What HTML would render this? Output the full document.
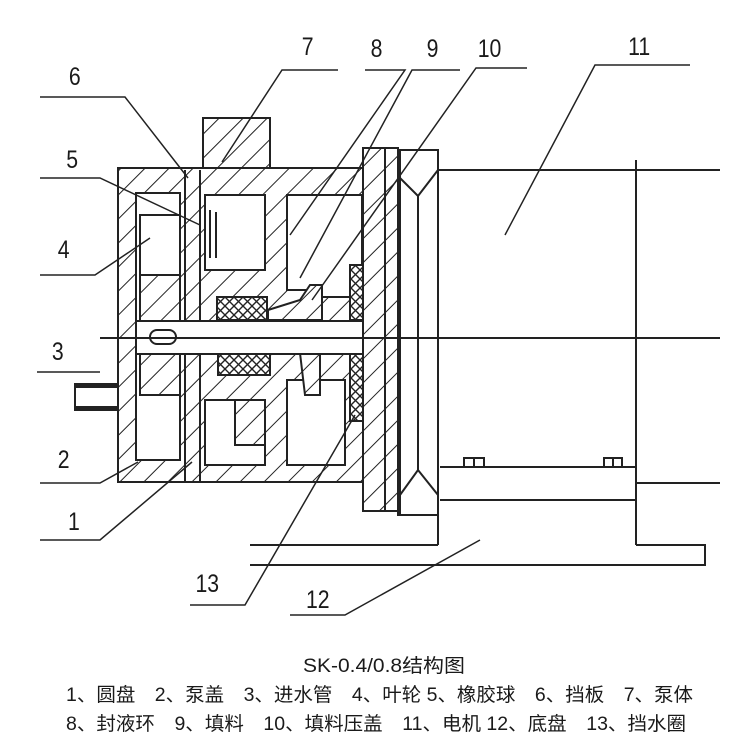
<!DOCTYPE html>
<html><head><meta charset="utf-8"><style>
html,body{margin:0;padding:0;background:#fff;width:750px;height:750px;overflow:hidden}
svg{display:block}
text{font-family:"Liberation Sans","Noto Sans CJK SC",sans-serif;fill:#1a1a1a}
</style></head><body>
<svg width="750" height="750" viewBox="0 0 750 750" xmlns="http://www.w3.org/2000/svg">
<defs>
<pattern id="h" patternUnits="userSpaceOnUse" width="17" height="17" patternTransform="rotate(45)">
<rect width="17" height="17" fill="#fff"/><line x1="0" y1="0" x2="0" y2="17" stroke="#222" stroke-width="2"/>
</pattern>
<pattern id="x" patternUnits="userSpaceOnUse" width="9" height="9">
<rect width="9" height="9" fill="#fff"/><path d="M0 0L9 9M9 0L0 9" stroke="#222" stroke-width="1.4"/>
</pattern>
</defs>
<g stroke="#222" stroke-width="2" fill="none">
<rect x="118" y="168" width="246" height="314" fill="url(#h)"/>
<rect x="203" y="118" width="67" height="50" fill="url(#h)"/>
<rect x="136" y="193" width="44" height="267" fill="#fff"/>
<rect x="140" y="215" width="40" height="60" fill="#fff"/>
<polygon points="140,275 180,275 180,322 140,322" fill="url(#h)"/>
<polygon points="140,352 180,352 180,395 140,395" fill="url(#h)"/>
<rect x="205" y="195" width="60" height="75" fill="#fff"/>
<line x1="210" y1="210" x2="210" y2="258"/><line x1="216" y1="212" x2="216" y2="258"/>
<polygon points="287,195 362,195 362,297 320,297 320,290 287,290" fill="#fff"/>
<rect x="205" y="400" width="60" height="65" fill="#fff"/>
<polygon points="287,380 345,380 345,465 287,465" fill="#fff"/>
<polygon points="235,400 265,400 265,445 235,445" fill="url(#h)"/>
<line x1="185" y1="170" x2="185" y2="482"/><line x1="200" y1="170" x2="200" y2="482"/>
<rect x="217" y="297" width="50" height="23" fill="url(#x)"/>
<polygon points="268,310 300,300 310,285 322,285 322,320 268,320" fill="url(#h)"/>
<rect x="218" y="353" width="52" height="22" fill="url(#x)"/>
<polygon points="300,353 320,353 320,395 305,395" fill="url(#h)"/>
<rect x="350" y="265" width="16" height="55" fill="url(#x)"/>
<rect x="350" y="353" width="16" height="68" fill="url(#x)"/>
<rect x="136" y="321" width="250" height="33" fill="#fff"/>
<rect x="150" y="330" width="26" height="14" rx="7" fill="#fff"/>
<rect x="363" y="148" width="35" height="363" fill="url(#h)"/>
<line x1="385" y1="148" x2="385" y2="511"/>
<rect x="398" y="150" width="40" height="365" fill="#fff"/>
<line x1="400" y1="150" x2="400" y2="515"/>
<polyline points="400,178 418,196 438,170"/>
<line x1="418" y1="196" x2="418" y2="470"/>
<polyline points="400,495 418,470 438,495"/>
<line x1="438" y1="170" x2="720" y2="170"/>
<line x1="438" y1="170" x2="438" y2="545"/>
<line x1="636" y1="160" x2="636" y2="545"/>
<line x1="440" y1="467" x2="636" y2="467"/>
<line x1="440" y1="500" x2="636" y2="500"/>
<line x1="636" y1="483" x2="720" y2="483"/>
<rect x="464" y="458" width="20" height="9"/><line x1="474" y1="458" x2="474" y2="467"/>
<rect x="604" y="458" width="18" height="9"/><line x1="613" y1="458" x2="613" y2="467"/>
<polyline points="250,545 438,545"/>
<polyline points="636,545 705,545 705,565 250,565"/>
<line x1="100" y1="338" x2="720" y2="338"/>
<rect x="75" y="384" width="43" height="26" fill="#fff"/>
<line x1="75" y1="386" x2="118" y2="386" stroke-width="4"/>
<line x1="75" y1="408" x2="118" y2="408" stroke-width="4"/>
<g stroke-width="1.5">
<polyline points="338,70 282,70 222,162"/>
<polyline points="365,70 405,70 290,235"/>
<polyline points="460,70 412,70 300,278"/>
<polyline points="527,68 476,68 312,300"/>
<polyline points="690,65 595,65 505,235"/>
<polyline points="40,97 125,97 188,178"/>
<polyline points="40,178 100,178 200,225"/>
<polyline points="40,275 95,275 150,238"/>
<polyline points="37,372 100,372"/>
<polyline points="40,483 100,483 138,462"/>
<polyline points="40,540 100,540 192,462"/>
<polyline points="190,605 245,605 355,415"/>
<polyline points="290,615 345,615 480,540"/>
</g>
</g>
<g font-size="25" transform="scale(0.85,1)">
<text x="355" y="55">7</text><text x="436" y="57">8</text><text x="502" y="57">9</text>
<text x="562" y="57">10</text><text x="739" y="55">11</text>
<text x="81" y="85">6</text><text x="78" y="168">5</text><text x="68" y="258">4</text>
<text x="61" y="360">3</text><text x="68" y="468">2</text><text x="80" y="530">1</text>
<text x="230" y="592">13</text><text x="360" y="608">12</text>
</g>
<g font-size="19">
<text x="303" y="672" textLength="162" lengthAdjust="spacingAndGlyphs">SK-0.4/0.8结构图</text>
<text x="66" y="701" textLength="627" lengthAdjust="spacingAndGlyphs">1、圆盘　2、泵盖　3、进水管　4、叶轮 5、橡胶球　6、挡板　7、泵体</text>
<text x="66" y="730" textLength="620" lengthAdjust="spacingAndGlyphs">8、封液环　9、填料　10、填料压盖　11、电机 12、底盘　13、挡水圈</text>
</g>
</svg>
</body></html>
